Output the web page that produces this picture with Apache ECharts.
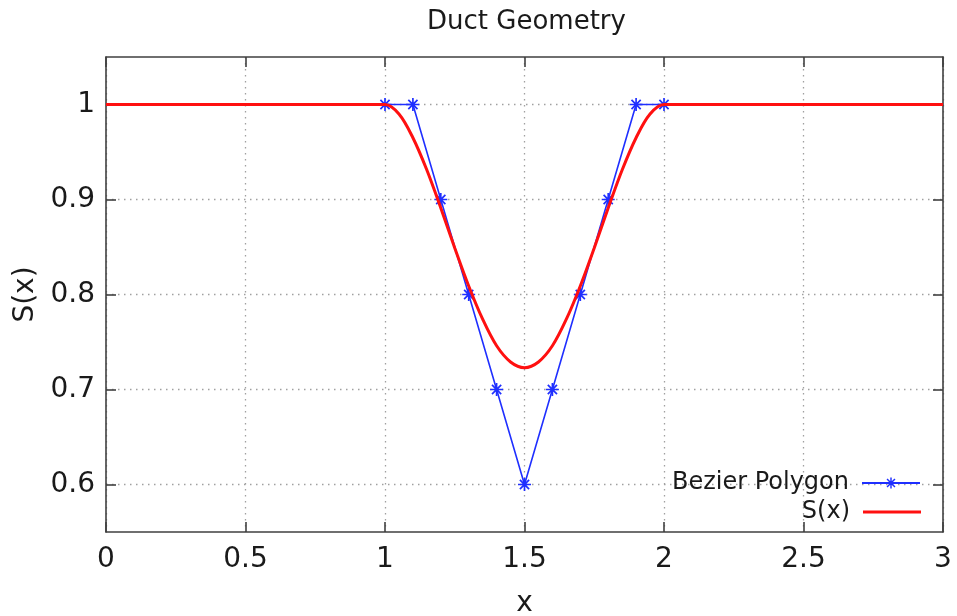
<!DOCTYPE html>
<html>
<head>
<meta charset="utf-8">
<script src="https://cdn.jsdelivr.net/npm/echarts@6/dist/echarts.min.js"></script>
<style>
  html, body { margin: 0; padding: 0; background: #fff; }
  #chart { width: 957px; height: 616px; }
</style>
</head>
<body>
<div id="chart"></div>
<script>
// Control polygon of the Bezier duct shape
const polyX = [1, 1.1, 1.2, 1.3, 1.4, 1.5, 1.6, 1.7, 1.8, 1.9, 2];
const polyY = [1, 1, 0.9, 0.8, 0.7, 0.6, 0.7, 0.8, 0.9, 1, 1];

// Duct area S(x)
const curveX = [0, 0.5, 0.95, 1, 1.05, 1.1, 1.15, 1.2, 1.25, 1.3, 1.35, 1.4, 1.45, 1.5,
                1.55, 1.6, 1.65, 1.7, 1.75, 1.8, 1.85, 1.9, 1.95, 2, 2.05, 2.5, 3];
const curveY = [1, 1, 1, 1, 0.990, 0.965, 0.931, 0.891, 0.849, 0.809, 0.774, 0.746, 0.729, 0.723,
                0.729, 0.746, 0.774, 0.809, 0.849, 0.891, 0.931, 0.965, 0.990, 1, 1, 1, 1];

// Axis ticks
const xTicks = [0, 0.5, 1, 1.5, 2, 2.5, 3];
const yTicks = [0.6, 0.7, 0.8, 0.9, 1];

const FONT = 'DejaVu Sans';
const AXIS_COLOR = '#404040';
const GRID_LINE = { show: true, lineStyle: { color: '#a0a0a0', width: 1.3, type: [1.5, 4.5] } };

// Asterisk marker (+ overlaid with x)
const STAR = 'path://M-0.9,-7 L0.9,-7 L0.9,7 L-0.9,7 Z M-7,-0.9 L7,-0.9 L7,0.9 L-7,0.9 Z ' +
  'M-5.6,-4.3 L-4.3,-5.6 L5.6,4.3 L4.3,5.6 Z M4.3,-5.6 L5.6,-4.3 L-4.3,5.6 L-5.6,4.3 Z';

const zip = (xs, ys) => xs.map((x, i) => [x, ys[i]]);

const chart = echarts.init(document.getElementById('chart'));

const xAxisBase = {
  type: 'value', min: xTicks[0], max: xTicks[xTicks.length - 1], interval: 0.5,
  axisLine: { show: true, onZero: false, lineStyle: { color: AXIS_COLOR, width: 1.6 } },
  axisTick: { show: true, inside: true, length: 10, lineStyle: { color: AXIS_COLOR, width: 1.6 } },
};
const yAxisBase = {
  type: 'value', min: 0.55, max: 1.05,
  axisLine: { show: true, onZero: false, lineStyle: { color: AXIS_COLOR, width: 1.6 } },
  axisTick: { show: true, inside: true, length: 10, customValues: yTicks,
              lineStyle: { color: AXIS_COLOR, width: 1.6 } },
};

const legendText = { fontFamily: FONT, fontSize: 24, color: '#1a1a1a', padding: [0, 8, 0, 0] };

chart.setOption({
  animation: false,
  backgroundColor: '#ffffff',
  title: {
    text: 'Duct Geometry',
    left: 422, top: 4,
    textStyle: { fontFamily: FONT, fontSize: 26, fontWeight: 'normal', color: '#1a1a1a' }
  },
  grid: { left: 106, right: 14, top: 57, bottom: 84, containLabel: false, outerBoundsMode: 'none' },
  legend: [
    {
      data: ['Bezier Polygon'], orient: 'vertical', align: 'right',
      right: 36, top: 471, padding: 0,
      itemWidth: 58, itemHeight: 14,
      textStyle: legendText
    },
    {
      data: [{ name: 'S(x)', icon: 'rect' }], orient: 'vertical', align: 'right',
      right: 36, top: 500, padding: 0,
      itemWidth: 58, itemHeight: 3,
      textStyle: legendText
    }
  ],
  xAxis: [
    Object.assign({}, xAxisBase, {
      position: 'bottom',
      name: 'x', nameLocation: 'middle', nameGap: 58,
      nameTextStyle: { fontFamily: FONT, fontSize: 28, color: '#1a1a1a' },
      axisLabel: { fontFamily: FONT, fontSize: 28, color: '#1a1a1a', margin: 14 },
      splitLine: GRID_LINE
    }),
    Object.assign({}, xAxisBase, {
      position: 'top', axisLabel: { show: false }, splitLine: { show: false }
    })
  ],
  yAxis: [
    Object.assign({}, yAxisBase, {
      position: 'left',
      name: 'S(x)', nameLocation: 'middle', nameGap: 56, nameRotate: 90,
      nameTextStyle: { fontFamily: FONT, fontSize: 28, color: '#1a1a1a' },
      axisLabel: { fontFamily: FONT, fontSize: 28, color: '#1a1a1a', margin: 11, customValues: yTicks },
      splitLine: GRID_LINE
    }),
    Object.assign({}, yAxisBase, {
      position: 'right', axisLabel: { show: false }, splitLine: { show: false }
    })
  ],
  series: [
    {
      name: 'Bezier Polygon', type: 'line',
      xAxisIndex: 0, yAxisIndex: 0,
      data: zip(polyX, polyY),
      symbol: STAR, symbolSize: 13, showSymbol: true,
      lineStyle: { color: '#1f2fff', width: 1.6 },
      itemStyle: { color: '#1f2fff' },
      z: 3
    },
    {
      name: 'S(x)', type: 'line',
      xAxisIndex: 0, yAxisIndex: 0,
      data: zip(curveX, curveY),
      smooth: 0.35,
      symbol: 'none',
      lineStyle: { color: '#ff1010', width: 3 },
      itemStyle: { color: '#ff1010' },
      z: 4
    }
  ]
});
</script>
</body>
</html>
